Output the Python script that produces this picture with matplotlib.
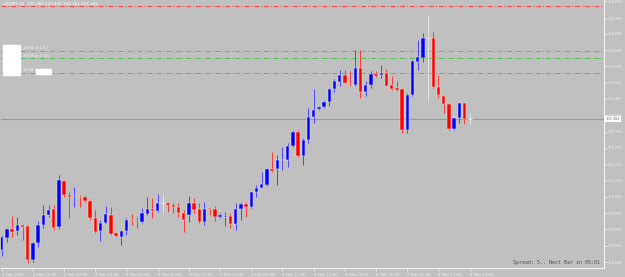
import matplotlib
matplotlib.use('Agg')
import matplotlib.pyplot as plt
import numpy as np
from matplotlib.patches import Rectangle

# hourly USDJPY candles, 2 Feb 05:00 .. 5 Feb 23:00
opens = [104.899, 104.942, 104.975, 104.969, 104.991, 104.988, 104.862, 104.924, 104.991, 105.028,
         105.049, 104.983, 105.153, 105.102, 105.093, 105.095, 105.093, 105.081, 105.016, 104.969,
         105.000, 105.028, 104.961, 104.948, 104.969, 105.010, 105.007, 105.001, 105.032, 105.050,
         105.042, 105.071, 105.071, 105.064, 105.059, 105.037, 105.029, 105.073, 105.049, 105.003,
         105.055, 105.050, 105.022, 105.022, 105.024, 104.995, 105.050, 105.069, 105.056, 105.112,
         105.129, 105.138, 105.196, 105.196, 105.229, 105.230, 105.282, 105.335, 105.245, 105.304,
         105.390, 105.417, 105.424, 105.445, 105.491, 105.517, 105.544, 105.510, 105.507, 105.570,
         105.482, 105.507, 105.547, 105.543, 105.552, 105.507, 105.494, 105.491, 105.341, 105.470,
         105.592, 105.607, 105.678, 105.678, 105.498, 105.466, 105.437, 105.344, 105.386, 105.439,
         105.382]
highs = [104.954, 104.979, 105.024, 105.022, 104.995, 104.991, 104.930, 105.007, 105.065, 105.065,
         105.065, 105.175, 105.157, 105.114, 105.132, 105.102, 105.102, 105.086, 105.046, 105.010,
         105.061, 105.059, 104.967, 104.973, 105.016, 105.032, 105.022, 105.053, 105.095, 105.090,
         105.105, 105.102, 105.077, 105.071, 105.071, 105.046, 105.098, 105.090, 105.071, 105.077,
         105.059, 105.061, 105.037, 105.040, 105.037, 105.071, 105.077, 105.077, 105.114, 105.138,
         105.187, 105.201, 105.261, 105.249, 105.279, 105.292, 105.341, 105.341, 105.310, 105.421,
         105.491, 105.429, 105.451, 105.494, 105.529, 105.562, 105.562, 105.556, 105.635, 105.635,
         105.521, 105.559, 105.559, 105.580, 105.565, 105.540, 105.521, 105.496, 105.476, 105.599,
         105.670, 105.699, 105.764, 105.703, 105.543, 105.470, 105.441, 105.386, 105.441, 105.441,
         105.400]
lows = [104.877, 104.930, 104.948, 104.954, 104.936, 104.852, 104.856, 104.909, 104.979, 105.022,
        104.973, 104.975, 105.095, 105.016, 105.059, 105.059, 105.077, 105.010, 104.961, 104.933,
        104.997, 104.954, 104.948, 104.918, 104.954, 104.991, 104.979, 104.997, 105.028, 105.016,
        105.040, 105.040, 105.040, 105.037, 105.022, 104.967, 105.003, 105.034, 104.997, 104.991,
        105.028, 105.007, 105.016, 104.988, 104.979, 104.973, 105.010, 105.022, 105.053, 105.095,
        105.126, 105.135, 105.187, 105.138, 105.194, 105.204, 105.279, 105.240, 105.212, 105.292,
        105.368, 105.415, 105.423, 105.429, 105.482, 105.503, 105.513, 105.503, 105.504, 105.458,
        105.464, 105.494, 105.535, 105.531, 105.501, 105.488, 105.486, 105.331, 105.331, 105.466,
        105.562, 105.592, 105.451, 105.494, 105.458, 105.402, 105.341, 105.341, 105.368, 105.362,
        105.361]
closes = [104.948, 104.975, 104.965, 104.991, 104.985, 104.862, 104.924, 104.991, 105.028, 105.046,
          104.979, 105.157, 105.102, 105.095, 105.098, 105.093, 105.081, 105.016, 104.967, 105.000,
          105.031, 104.958, 104.952, 104.969, 105.010, 105.007, 105.001, 105.034, 105.050, 105.043,
          105.073, 105.071, 105.064, 105.056, 105.034, 105.010, 105.071, 105.046, 105.003, 105.049,
          105.049, 105.022, 105.028, 105.025, 104.994, 105.050, 105.069, 105.056, 105.112, 105.129,
          105.141, 105.196, 105.191, 105.230, 105.232, 105.282, 105.335, 105.245, 105.304, 105.390,
          105.415, 105.424, 105.445, 105.491, 105.521, 105.543, 105.515, 105.507, 105.570, 105.482,
          105.507, 105.547, 105.540, 105.552, 105.503, 105.491, 105.488, 105.341, 105.470, 105.595,
          105.611, 105.678, 105.678, 105.498, 105.470, 105.437, 105.344, 105.384, 105.439, 105.380,
          105.382]

time_labels = ['2 Feb 2021', '2 Feb 11:00', '2 Feb 17:00', '2 Feb 23:00', '3 Feb 05:00',
               '3 Feb 11:00', '3 Feb 17:00', '3 Feb 23:00', '4 Feb 05:00', '4 Feb 11:00',
               '4 Feb 17:00', '4 Feb 23:00', '5 Feb 05:00', '5 Feb 11:00', '5 Feb 17:00',
               '5 Feb 23:00']
price_ticks = [104.855, 104.915, 104.975, 105.035, 105.095, 105.155, 105.215, 105.275, 105.335,
               105.395, 105.455, 105.515, 105.575, 105.635, 105.695, 105.750, 105.815]

# order lines (red = stop, green = entries) and their little tags
order_levels = [105.797, 105.632, 105.605, 105.551]
order_colors = ['#ff4040', '#50c050', '#50c050', '#50c050']
order_tags = ['', '#258 sl 1.00', '#258 tp 1.00', '#258 sl']
last_price = 105.382
header = 'USDJPY,H1  105.382 105.400 105.361 105.382'

bg = '#c0c0c0'
fig = plt.figure(figsize=(6.25, 2.77), dpi=100)
fig.patch.set_facecolor(bg)
ax = fig.add_axes([1/625, 9/277, 603/625, 268/277])
ax.set_facecolor(bg)

x = np.arange(len(opens))
o = np.array(opens); c = np.array(closes)
cols = np.where(c > o, '#0000ff', np.where(c < o, '#ff0000', '#e4e4e4'))
wick_cols = np.where(c > o, '#4848ff', np.where(c < o, '#ff3838', '#e4e4e4'))

ax.vlines(x, lows, highs, colors=wick_cols, linewidth=0.7, zorder=2)
ax.bar(x, np.abs(c - o), bottom=np.minimum(o, c), width=0.62, color=cols,
       edgecolor='#e8e8d8', linewidth=0.35, zorder=3)
ax.hlines(c[c == o], x[c == o] - 0.35, x[c == o] + 0.35, colors='#e4e4e4', linewidth=0.7, zorder=3)

ax.axhline(last_price, color='#9898a4', linewidth=0.8, zorder=1)
for lvl, col, tag in zip(order_levels, order_colors, order_tags):
    ax.axhline(lvl, color=col, linewidth=0.7, linestyle=(0, (5, 2, 1, 2)), zorder=1)
    if tag:
        ax.text(4.0, lvl + 0.002, tag, fontsize=2.8, color='#f4f4f4', va='bottom', ha='left')

ax.set_xlim(-0.135, 115.83)
ax.set_ylim(104.833, 105.819)

ax.yaxis.tick_right()
ax.set_yticks(price_ticks)
ax.set_yticklabels(['%.3f' % p for p in price_ticks])
ax.set_xticks(x[::6])
ax.set_xticklabels(time_labels, ha='left')
ax.tick_params(axis='both', colors='#f4f4f4', length=2, width=0.5)
ax.tick_params(axis='y', labelsize=2.5, pad=0.8)
ax.tick_params(axis='x', labelsize=2.9, pad=1.3)

for s in ['top', 'left']:
    ax.spines[s].set_visible(False)
for s in ['right', 'bottom']:
    ax.spines[s].set_color('#f4f4f4')
    ax.spines[s].set_linewidth(0.8)

# current price tag on the scale
ax.text(1.003, last_price, '%.3f' % last_price, transform=ax.get_yaxis_transform(),
        fontsize=2.5, color='#606060', va='center', ha='left',
        bbox=dict(boxstyle='square,pad=0.3', fc='white', ec='none'))

fig.text(3/625, 1 - 4/277, header, fontsize=3, color='white', va='center', ha='left')
ax.text(0.993, 0.019, 'Spread: 5.. Next Bar in 05:01', transform=ax.transAxes,
        fontsize=3.6, family='DejaVu Sans Mono', color='#505050', ha='right', va='center')

# white panels on the left
fig.add_artist(Rectangle((3/625, 1 - 75/277), 17/625, 30/277, transform=fig.transFigure,
                         color='white', zorder=5))
fig.add_artist(Rectangle((36/625, 1 - 74/277), 15/625, 5/277, transform=fig.transFigure,
                         color='white', zorder=5))

fig.savefig('out.png', dpi=100, facecolor=bg)
